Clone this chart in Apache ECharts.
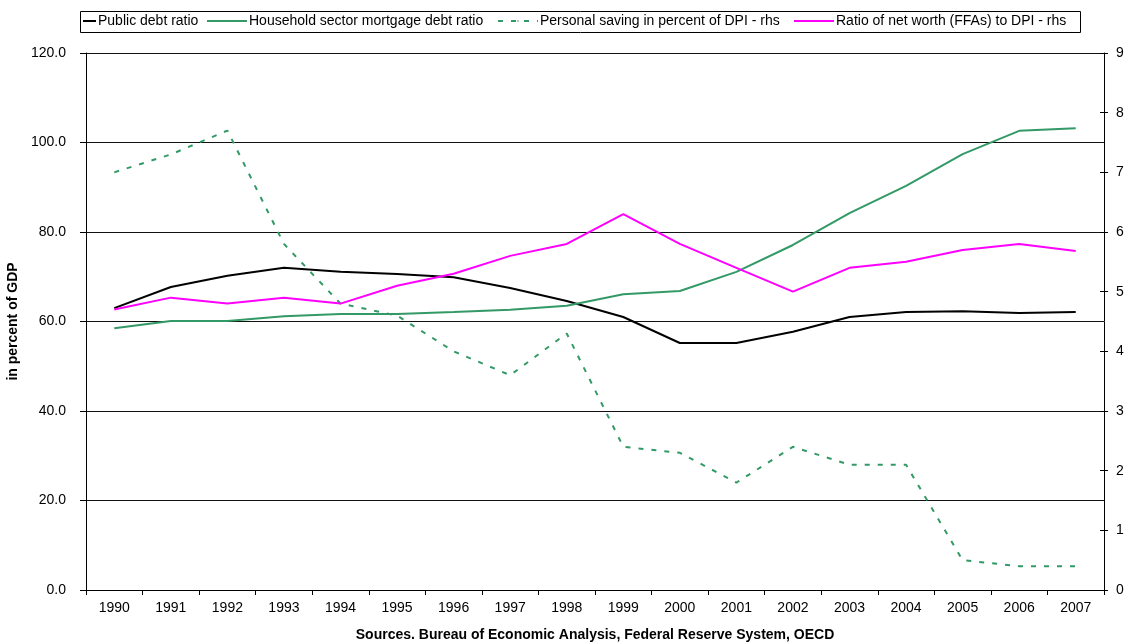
<!DOCTYPE html>
<html>
<head>
<meta charset="utf-8">
<script src="https://cdn.jsdelivr.net/npm/echarts@6/dist/echarts.min.js"></script>
<style>
  html, body { margin: 0; padding: 0; background: #fff; }
  #chart { width: 1130px; height: 643px; }
</style>
</head>
<body>
<div id="chart"></div>
<script>
// Datos
const years = ['1990', '1991', '1992', '1993', '1994', '1995', '1996', '1997', '1998',
  '1999', '2000', '2001', '2002', '2003', '2004', '2005', '2006', '2007'];
const publicDebt = [63.0, 67.7, 70.2, 72.0, 71.1, 70.6, 69.9, 67.5, 64.6, 61.0, 55.2, 55.2, 57.7, 61.0, 62.1, 62.3, 61.9, 62.1];
const mortgageDebt = [58.5, 60.1, 60.1, 61.2, 61.7, 61.7, 62.1, 62.6, 63.5, 66.1, 66.8, 71.1, 77.1, 84.2, 90.3, 97.4, 102.6, 103.2];
const savingRate = [7.0, 7.3, 7.7, 5.8, 4.8, 4.6, 4.0, 3.6, 4.3, 2.4, 2.3, 1.8, 2.4, 2.1, 2.1, 0.5, 0.4, 0.4];
const netWorth = [4.7, 4.9, 4.8, 4.9, 4.8, 5.1, 5.3, 5.6, 5.8, 6.3, 5.8, 5.4, 5.0, 5.4, 5.5, 5.7, 5.8, 5.68];

const names = [
  'Public debt ratio',
  'Household sector mortgage debt ratio',
  'Personal saving in percent of DPI - rhs',
  'Ratio of net worth (FFAs) to DPI - rhs'
];

const chart = echarts.init(document.getElementById('chart'));
const font = 'Liberation Sans, Arial, sans-serif';

// Una leyenda por serie para imitar el recuadro de Excel
function legendItem(name, left, width) {
  return {
    top: 14, left: left, padding: 0,
    itemWidth: width, itemHeight: 2,
    textStyle: { fontSize: 14, fontFamily: font, color: '#000', padding: [0, 0, 0, -3] },
    data: [name]
  };
}

chart.setOption({
  animation: false,
  textStyle: { fontFamily: font, color: '#000' },
  graphic: [{
    type: 'rect', left: 80, top: 11, z: -1,
    shape: { width: 1000, height: 21 },
    style: { fill: '#fff', stroke: '#000', lineWidth: 1 }
  }],
  legend: [
    legendItem(names[0], 82, 13),
    legendItem(names[1], 206, 40),
    legendItem(names[2], 497, 40),
    legendItem(names[3], 793, 40)
  ],
  grid: { left: 86, right: 26, top: 53, bottom: 53, outerBoundsMode: 'none' },
  xAxis: {
    type: 'category',
    data: years,
    boundaryGap: true,
    name: 'Sources. Bureau of Economic Analysis, Federal Reserve System, OECD',
    nameLocation: 'middle', nameGap: 38,
    nameTextStyle: { fontWeight: 'bold', fontSize: 14, fontFamily: font },
    axisLine: { lineStyle: { color: '#000' } },
    axisTick: { show: true, length: 5, lineStyle: { color: '#000' } },
    axisLabel: { fontSize: 14, color: '#000', margin: 11 }
  },
  yAxis: [
    {
      type: 'value', min: 0, max: 120, interval: 20,
      name: 'in percent of GDP', nameLocation: 'middle', nameGap: 59, nameRotate: 90,
      nameTextStyle: { fontWeight: 'bold', fontSize: 14, fontFamily: font },
      axisLine: { show: true, lineStyle: { color: '#000' } },
      axisTick: { show: true, length: 6, lineStyle: { color: '#000' } },
      axisLabel: { fontSize: 14, color: '#000', margin: 20, formatter: v => v.toFixed(1) },
      splitLine: { show: true, lineStyle: { color: '#111', width: 1 } }
    },
    {
      type: 'value', min: 0, max: 9, interval: 1,
      axisLine: { show: true, lineStyle: { color: '#000' } },
      axisTick: { show: true, length: 4, lineStyle: { color: '#000' } },
      axisLabel: { fontSize: 14, color: '#000', margin: 12 },
      splitLine: { show: false }
    },
    {
      // marcas interiores del eje derecho (cruzan el eje)
      type: 'value', min: 0, max: 9, interval: 1, position: 'right', offset: 0,
      axisLine: { show: false },
      axisTick: { show: true, inside: true, length: 4, lineStyle: { color: '#000' } },
      axisLabel: { show: false },
      splitLine: { show: false }
    }
  ],
  series: [
    {
      name: names[0], type: 'line', data: publicDebt, yAxisIndex: 0,
      showSymbol: false, symbol: 'none',
      lineStyle: { color: '#000', width: 2 }, itemStyle: { color: '#000' }
    },
    {
      name: names[1], type: 'line', data: mortgageDebt, yAxisIndex: 0,
      showSymbol: false, symbol: 'none',
      lineStyle: { color: '#339966', width: 2 }, itemStyle: { color: '#339966' }
    },
    {
      name: names[2], type: 'line', data: savingRate, yAxisIndex: 1,
      showSymbol: false, symbol: 'none',
      lineStyle: { color: '#339966', width: 2, type: [5, 8] }, itemStyle: { color: '#339966' }
    },
    {
      name: names[3], type: 'line', data: netWorth, yAxisIndex: 1,
      showSymbol: false, symbol: 'none',
      lineStyle: { color: '#ff00ff', width: 2 }, itemStyle: { color: '#ff00ff' }
    }
  ]
});
</script>
</body>
</html>
